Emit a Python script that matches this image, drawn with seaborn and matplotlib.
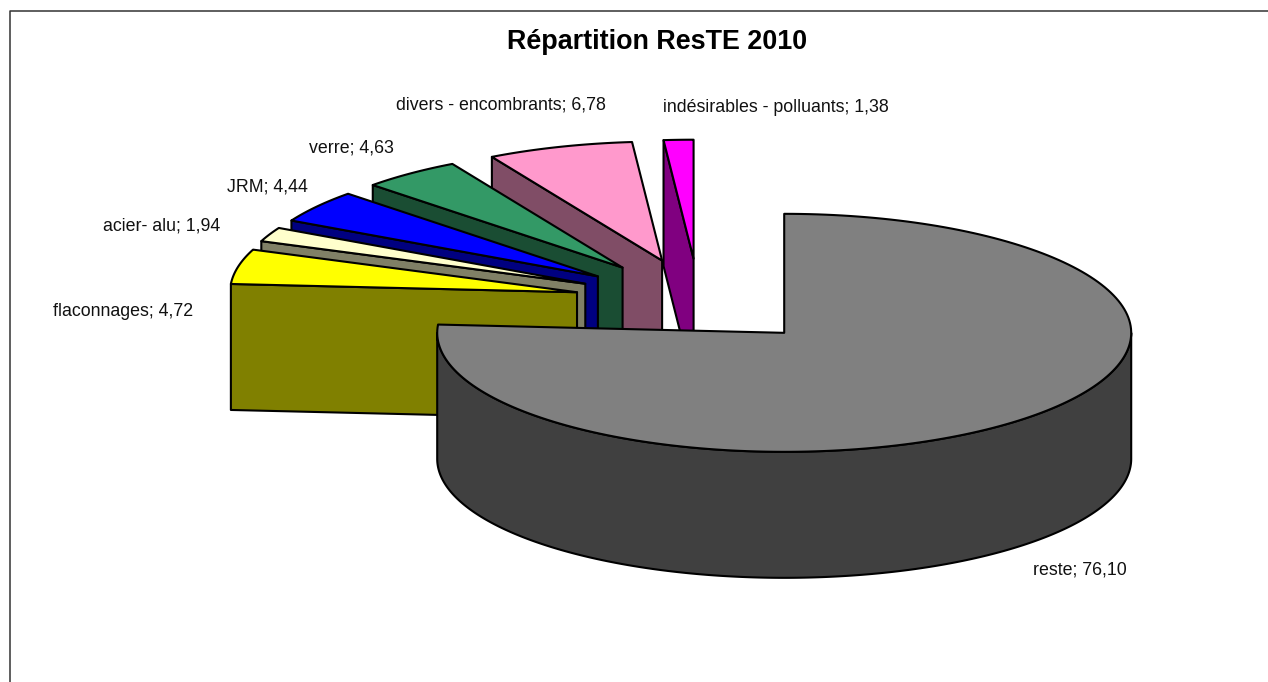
import numpy as np
import matplotlib
matplotlib.use('Agg')
import matplotlib.pyplot as plt
import seaborn as sns

# clockwise from 12 o'clock, same order as the original sheet
categories = ['reste', 'flaconnages', 'acier- alu', 'JRM', 'verre',
              'divers - encombrants', 'indésirables - polluants']
values = [76.10, 4.72, 1.94, 4.44, 4.63, 6.78, 1.38]
value_labels = ['76,10', '4,72', '1,94', '4,44', '4,63', '6,78', '1,38']

top_colors = sns.color_palette(['#808080', '#FFFF00', '#FFFFCC', '#0000FF',
                                '#339966', '#FF99CC', '#FF00FF'])
side_colors = sns.color_palette(['#404040', '#808000', '#808066', '#000080',
                                 '#1A4D33', '#804D66', '#800080'])

label_pos = [(1033, 570), (53, 312), (103, 226), (227, 187), (309, 148),
             (396, 105), (663, 107)]

# pie geometry, pixels
CX, CY = 699.0, 301.5
RX, RY = 347.0, 119.0
DEPTH = 126.0
EXPLODE = 0.36

sns.set_theme(style='white')
plt.rcParams['font.family'] = ['Liberation Sans', 'DejaVu Sans']

fig = plt.figure(figsize=(12.68, 6.82), dpi=100)
ax = fig.add_axes([0, 0, 1, 1])
ax.set_xlim(0, 1268)
ax.set_ylim(682, 0)
ax.axis('off')


def ring(a, cx, cy):
    # a in radians, clockwise from the top
    return cx + RX * np.sin(a), cy - RY * np.cos(a)


def draw_slice(start, end, top, side):
    mid = (start + end) / 2
    cx, cy = ring(mid, CX, CY)
    cx = CX + EXPLODE * (cx - CX)
    cy = CY + EXPLODE * (cy - CY)
    arc = np.linspace(start, end, 200)
    style = dict(edgecolor='black', linewidth=1.5, joinstyle='round')

    # cut face on the starting side, only visible on the back left
    if start > np.pi:
        ox, oy = ring(start, cx, cy)
        ax.fill([cx, ox, ox, cx], [cy, oy, oy + DEPTH, cy + DEPTH],
                facecolor=side, **style)

    # curved outer wall on the front half
    lo, hi = max(start, np.pi / 2), min(end, 3 * np.pi / 2)
    if lo < hi:
        front = np.linspace(lo, hi, 300)
        wx, wy = ring(front, cx, cy)
        ax.fill(np.r_[wx, wx[::-1]], np.r_[wy, wy[::-1] + DEPTH],
                facecolor=side, **style)

    tx, ty = ring(arc, cx, cy)
    ax.fill(np.r_[cx, tx], np.r_[cy, ty], facecolor=top, **style)


fractions = np.array(values) / sum(values) * 2 * np.pi
edges = np.r_[0, np.cumsum(fractions)]

# back to front: smallest last slice first, big grey one on top
for i in range(len(values) - 1, 0, -1):
    draw_slice(edges[i], edges[i + 1], top_colors[i], side_colors[i])
draw_slice(edges[0], edges[1], top_colors[0], side_colors[0])

for name, val, (x, y) in zip(categories, value_labels, label_pos):
    ax.text(x, y, f'{name}; {val}', fontsize=12.8, color='#111111',
            ha='left', va='center')

ax.text(657, 42, 'Répartition ResTE 2010', fontsize=19.4, fontweight='bold',
        ha='center', va='center', color='black')

# frame of the sheet, only top and left fall inside the picture
ax.plot([9.5, 9.5, 1268], [682, 11, 11], color='#333333', lw=1.1)

fig.savefig('out.png', dpi=100, facecolor='white')
